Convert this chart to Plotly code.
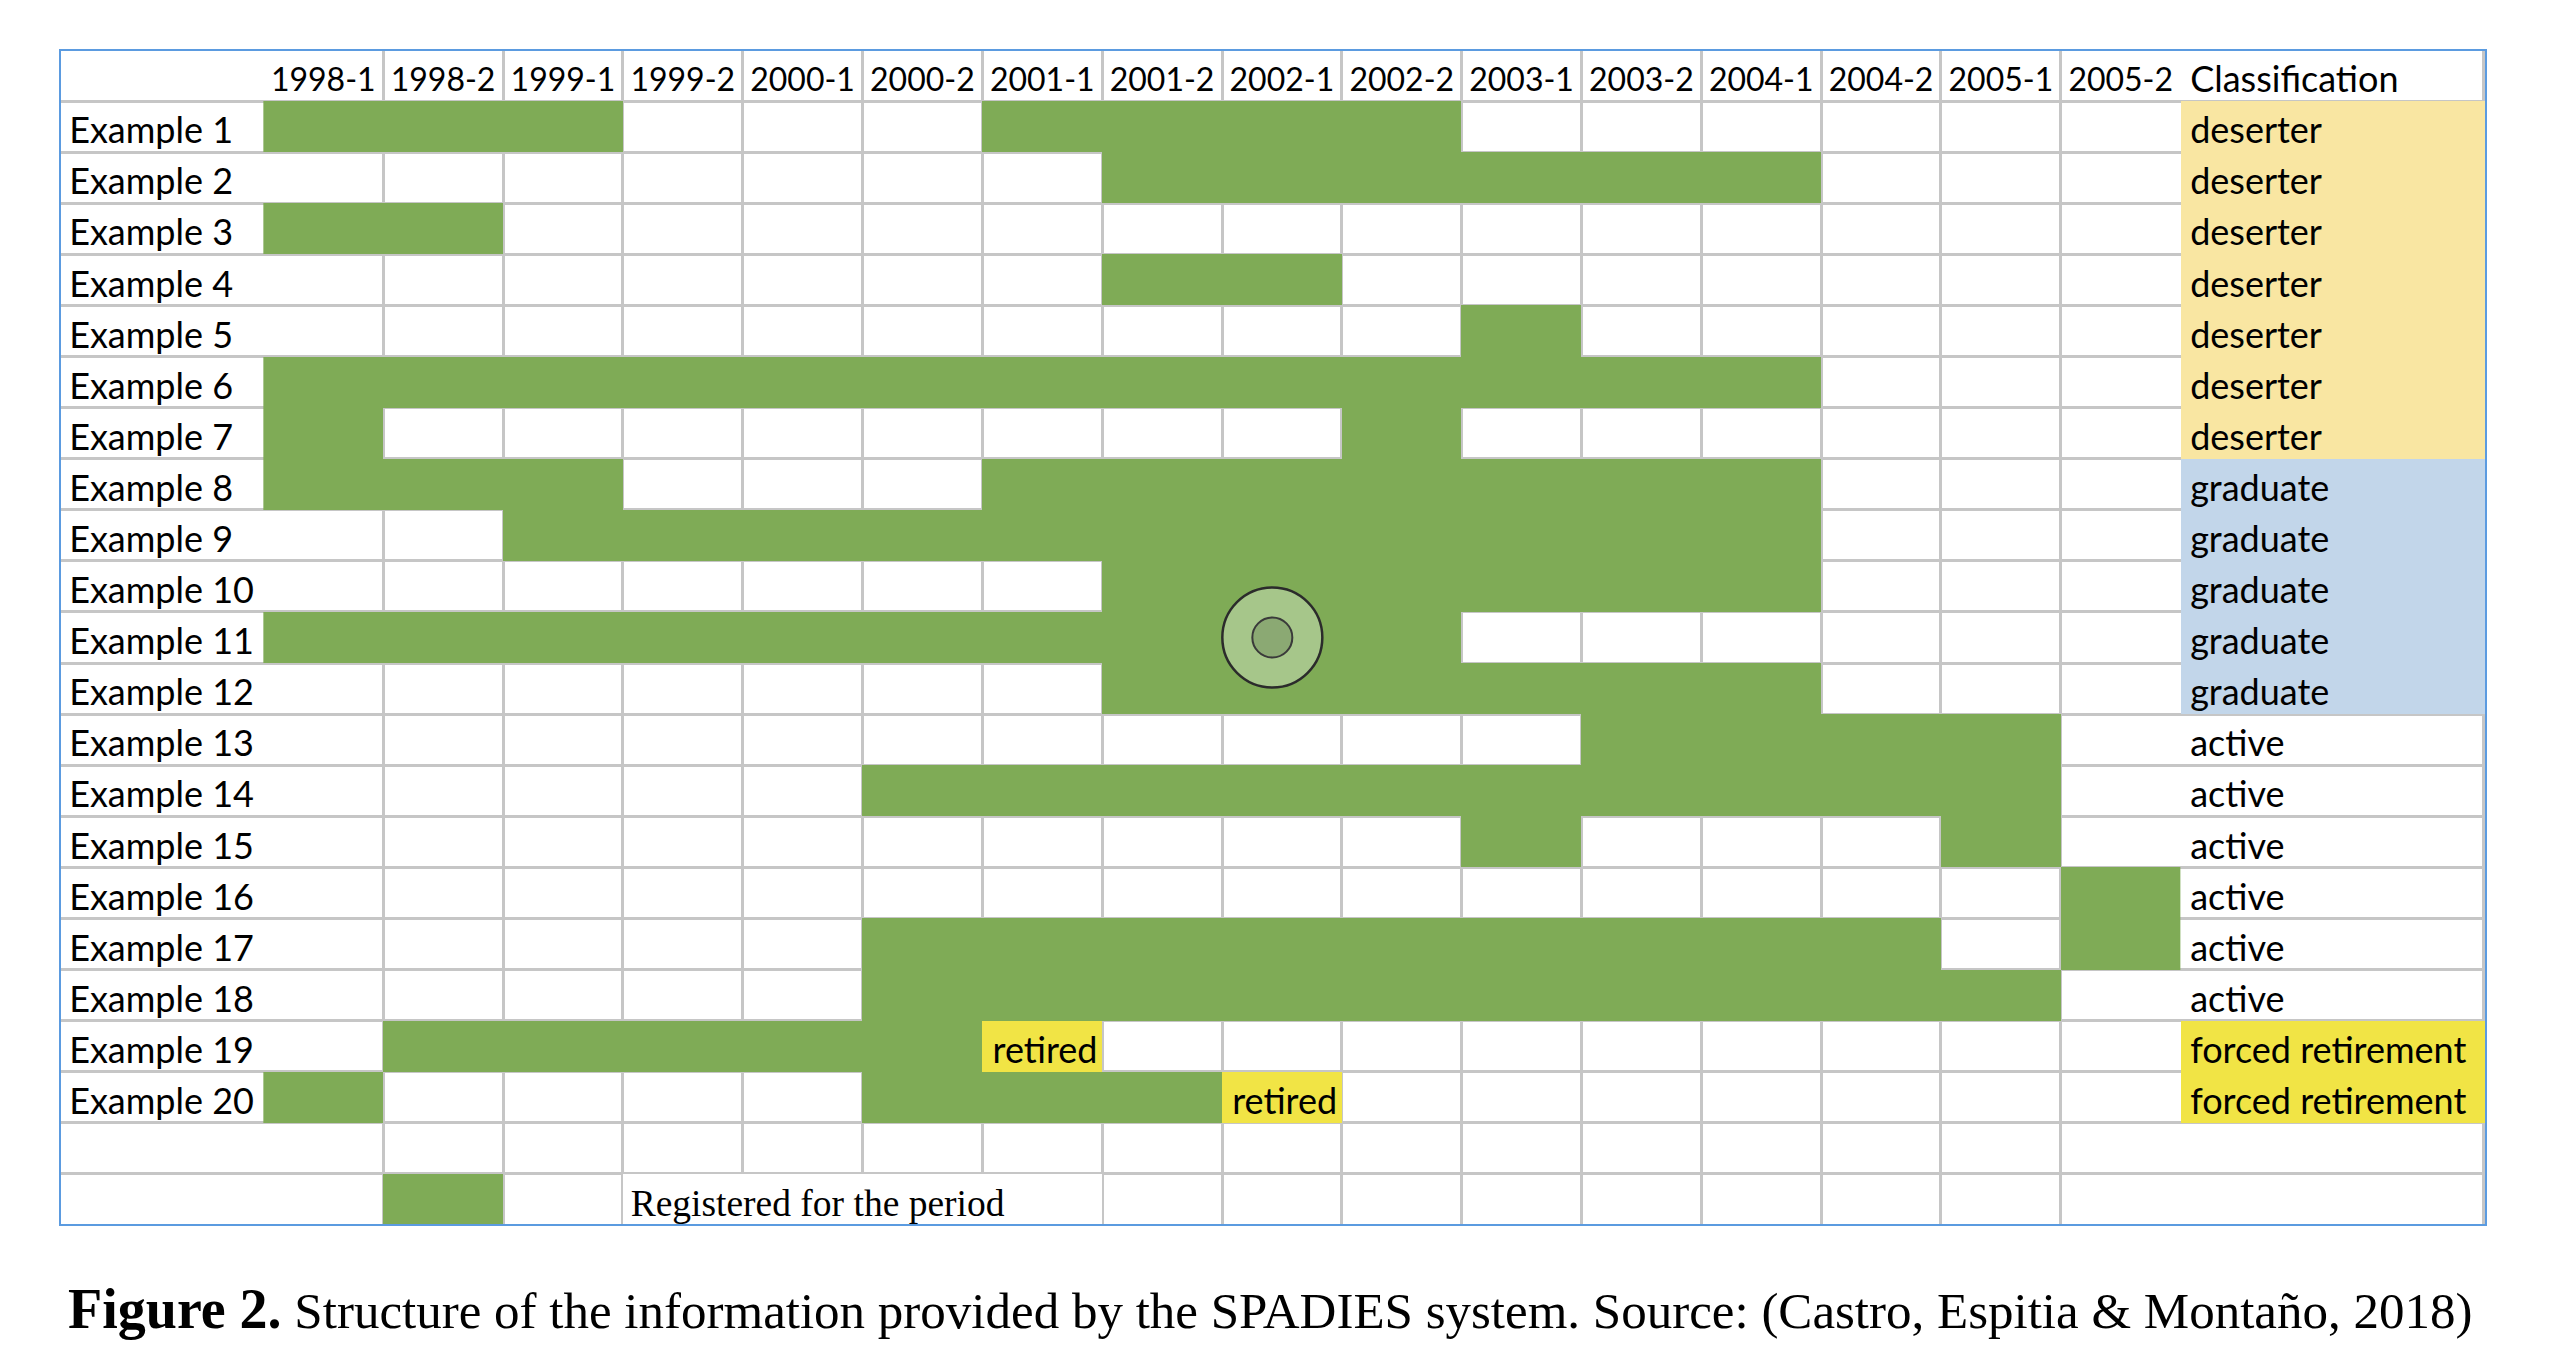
import math
import plotly.graph_objects as go

# ---------------- data ----------------
periods = ["1998-1", "1998-2", "1999-1", "1999-2", "2000-1", "2000-2", "2001-1", "2001-2",
           "2002-1", "2002-2", "2003-1", "2003-2", "2004-1", "2004-2", "2005-1", "2005-2"]

examples = ["Example %d" % i for i in range(1, 21)]

# registered spans (inclusive) per example
registered = [
    [("1998-1", "1999-1"), ("2001-1", "2002-2")],
    [("2001-2", "2004-1")],
    [("1998-1", "1998-2")],
    [("2001-2", "2002-1")],
    [("2003-1", "2003-1")],
    [("1998-1", "2004-1")],
    [("1998-1", "1998-1"), ("2002-2", "2002-2")],
    [("1998-1", "1999-1"), ("2001-1", "2004-1")],
    [("1999-1", "2004-1")],
    [("2001-2", "2004-1")],
    [("1998-1", "2002-2")],
    [("2001-2", "2004-1")],
    [("2003-2", "2005-1")],
    [("2000-2", "2005-1")],
    [("2003-1", "2003-1"), ("2005-1", "2005-1")],
    [("2005-2", "2005-2")],
    [("2000-2", "2004-2"), ("2005-2", "2005-2")],
    [("2000-2", "2005-1")],
    [("1998-2", "2000-2")],
    [("1998-1", "1998-1"), ("2000-2", "2001-2")],
]

# retired marks: (example index 1-based, period)
retired = [(19, "2001-1"), (20, "2002-1")]
retired_text = "retired"

classification = ["deserter"] * 7 + ["graduate"] * 5 + ["active"] * 6 + ["forced retirement"] * 2
class_header = "Classification"

legend_period = "1998-2"
legend_text = "Registered for the period"
legend_merge = ("1999-2", "2001-1")

marker_example = 11
marker_period = "2002-1"

caption_bold = "Figure 2."
caption_rest = " Structure of the information provided by the SPADIES system. Source: (Castro, Espitia & Montaño, 2018)"

# ---------------- styles ----------------
W, H = 2556, 1372
GREEN = "#7FAB56"
YELLOW = "#F1E445"
TAN = "#F9E6A2"
BLUE = "#C2D6EA"
GRID = "#C6C6C6"
BORDER = "#5B9BE0"
SANS = "Lato, 'Noto Sans', sans-serif"
SERIF = "'Liberation Serif', 'Times New Roman', serif"
FS = 36
HFS = 32

x_left, x_lab, x_per, x_right = 60, 263, 2181, 2486
y_top, y_bot = 50, 1225

n_rows = 1 + len(examples) + 2   # header, examples, blank, legend
legend_row = n_rows - 1

# ---------------- matrices ----------------
nan = float("nan")
pidx = {p: i for i, p in enumerate(periods)}
z = [[nan] * len(periods) for _ in range(n_rows)]
for r, spans in enumerate(registered, start=1):
    for a, b in spans:
        for c in range(pidx[a], pidx[b] + 1):
            z[r][c] = 1
for r, p in retired:
    z[r][pidx[p]] = 2
for c in range(pidx[legend_merge[0]], pidx[legend_merge[1]] + 1):
    z[legend_row][c] = 0
z[legend_row][pidx[legend_period]] = 1

class_codes = {"deserter": 0, "graduate": 1, "forced retirement": 2}
zc = [[nan] for _ in range(n_rows)]
for r, cl in enumerate(classification, start=1):
    if cl in class_codes:
        zc[r][0] = class_codes[cl]

rows_y = list(range(n_rows))

fig = go.Figure()

# period grid cells
fig.add_trace(go.Heatmap(
    z=z, x=list(range(len(periods))), y=rows_y, xaxis="x2", yaxis="y",
    zmin=0, zmax=2, showscale=False, hoverinfo="skip",
    colorscale=[[0, "white"], [0.333, "white"], [0.333, GREEN], [0.667, GREEN],
                [0.667, YELLOW], [1, YELLOW]],
))

# classification cells
fig.add_trace(go.Heatmap(
    z=zc, x=[0.5], y=rows_y, xaxis="x3", yaxis="y",
    zmin=0, zmax=2, showscale=False, hoverinfo="skip",
    colorscale=[[0, TAN], [0.333, TAN], [0.333, BLUE], [0.667, BLUE],
                [0.667, YELLOW], [1, YELLOW]],
))

TY = 0.15  # baseline nudge toward the bottom of the cell

# example labels
fig.add_trace(go.Scatter(
    x=[0.045] * len(examples), y=[r + TY for r in range(1, len(examples) + 1)],
    text=examples, mode="text", textposition="middle right",
    textfont=dict(family=SANS, size=FS, color="black"),
    xaxis="x", yaxis="y", hoverinfo="skip", showlegend=False,
))

# header periods
fig.add_trace(go.Scatter(
    x=list(range(len(periods))), y=[0 + TY] * len(periods), text=periods,
    mode="text", textposition="middle center",
    textfont=dict(family=SANS, size=HFS, color="black"),
    xaxis="x2", yaxis="y", hoverinfo="skip", showlegend=False,
))

# retired texts
fig.add_trace(go.Scatter(
    x=[pidx[p] - 0.5 + 0.085 for _, p in retired], y=[r + TY for r, _ in retired],
    text=[retired_text] * len(retired), mode="text", textposition="middle right",
    textfont=dict(family=SANS, size=FS, color="black"),
    xaxis="x2", yaxis="y", hoverinfo="skip", showlegend=False,
))

# legend text
fig.add_trace(go.Scatter(
    x=[pidx[legend_merge[0]] - 0.5 + 0.065], y=[legend_row + 0.15], text=[legend_text],
    mode="text", textposition="middle right",
    textfont=dict(family=SERIF, size=37.5, color="black"),
    xaxis="x2", yaxis="y", hoverinfo="skip", showlegend=False,
))

# classification texts
fig.add_trace(go.Scatter(
    x=[0.03] * (len(classification) + 1), y=[0 + TY] + [r + TY for r in range(1, len(classification) + 1)],
    text=[class_header] + classification, mode="text", textposition="middle right",
    textfont=dict(family=SANS, size=FS, color="black"),
    xaxis="x3", yaxis="y", hoverinfo="skip", showlegend=False,
))

# circle marker
mx = pidx[marker_period] - 0.08
fig.add_trace(go.Scatter(
    x=[mx], y=[marker_example], mode="markers",
    marker=dict(size=100, color="#A6C68A", line=dict(color="#2B2B2B", width=2.5)),
    xaxis="x2", yaxis="y", hoverinfo="skip", showlegend=False,
))
fig.add_trace(go.Scatter(
    x=[mx], y=[marker_example], mode="markers",
    marker=dict(size=40, color="#8BA973", line=dict(color="#3A3A3A", width=2)),
    xaxis="x2", yaxis="y", hoverinfo="skip", showlegend=False,
))

eps = 0.003
def px(v):
    return v / W

def py(v):
    return 1 - v / H

common = dict(showticklabels=False, ticks="", zeroline=False, showline=False,
              showgrid=True, gridcolor=GRID, gridwidth=3, fixedrange=True)

fig.update_layout(
    width=W, height=H, margin=dict(l=0, r=0, t=0, b=0),
    paper_bgcolor="white", plot_bgcolor="rgba(0,0,0,0)", showlegend=False,
    xaxis=dict(domain=[px(x_left), px(x_lab)], range=[0, 1], tickmode="array",
               tickvals=[], anchor="y", **common),
    xaxis2=dict(domain=[px(x_lab), px(x_per)], range=[-0.5 - eps, len(periods) - 0.5 + eps],
                tickmode="array", tickvals=[i - 0.5 for i in range(len(periods) + 1)],
                anchor="y", **common),
    xaxis3=dict(domain=[px(x_per), px(x_right)], range=[0, 1], tickmode="array",
                tickvals=[0.002, 0.993], anchor="y", **common),
    yaxis=dict(domain=[py(y_bot), py(y_top)], range=[n_rows - 0.5, -0.5], tickmode="array",
               tickvals=[i - 0.5 for i in range(n_rows + 1)], anchor="x", **common),
    shapes=[dict(type="rect", xref="paper", yref="paper",
                 x0=px(x_left), x1=px(x_right), y0=py(y_bot), y1=py(y_top),
                 line=dict(color=BORDER, width=2), layer="above")],
    annotations=[dict(
        xref="paper", yref="paper", x=px(66), y=py(1309), xanchor="left", yanchor="middle",
        text="<span style='font-size:56px'><b>%s</b></span>%s" % (caption_bold, caption_rest),
        showarrow=False,
        font=dict(family=SERIF, size=51, color="black"),
    )],
)

fig.write_html("out.html", config={"displayModeBar": False},
               post_script="document.body.style.margin='0';")
